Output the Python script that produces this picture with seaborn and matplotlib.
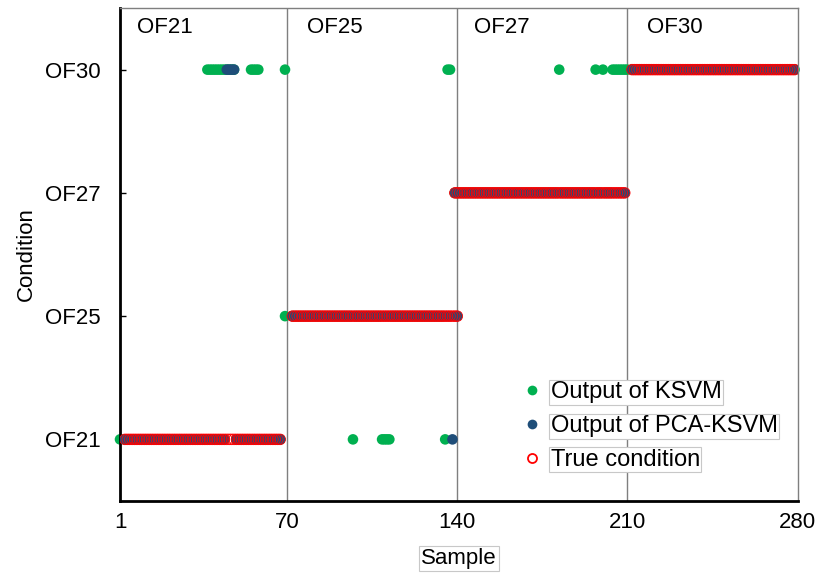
import matplotlib
matplotlib.use("Agg")
import matplotlib.pyplot as plt
import seaborn as sns
import pandas as pd
from matplotlib.lines import Line2D

# ---------------- data ----------------
conditions = ["OF21", "OF25", "OF27", "OF30"]
x_ticks = [1, 70, 140, 210, 280]
boundaries = [70, 140, 210]
region_labels = ["OF21", "OF25", "OF27", "OF30"]
region_label_x = [8, 78, 147, 218]

# runs of (condition, first sample, last sample)
true_runs = [("OF21", 3, 67), ("OF25", 72, 140), ("OF27", 139, 209), ("OF30", 212, 279)]

ksvm_runs = [("OF21", 1, 1), ("OF21", 3, 36), ("OF30", 37, 48), ("OF21", 49, 54),
             ("OF30", 55, 58), ("OF21", 59, 67), ("OF30", 69, 69), ("OF25", 69, 69),
             ("OF25", 72, 96), ("OF21", 97, 97), ("OF25", 98, 108), ("OF21", 109, 112),
             ("OF25", 113, 134), ("OF21", 135, 135), ("OF30", 136, 137), ("OF27", 139, 181),
             ("OF30", 182, 182), ("OF27", 183, 196), ("OF30", 197, 197), ("OF27", 198, 199),
             ("OF30", 200, 200), ("OF27", 201, 203), ("OF30", 204, 210), ("OF30", 212, 279)]

pca_runs = [("OF21", 3, 44), ("OF30", 45, 48), ("OF21", 49, 67), ("OF25", 72, 137),
            ("OF21", 138, 138), ("OF25", 139, 140), ("OF27", 139, 209), ("OF30", 212, 279)]

legend_labels = ["Output of KSVM", "Output of PCA-KSVM", "True condition"]
colors = {"ksvm": "#00B050", "pca": "#1F4E79", "true": "#FF0000"}


def expand(runs):
    xs, ys = [], []
    for cond, a, b in runs:
        for s in range(a, b + 1):
            xs.append(s)
            ys.append(conditions.index(cond) + 1)
    return pd.DataFrame({"Sample": xs, "Condition": ys})


df_true = expand(true_runs)
df_ksvm = expand(ksvm_runs)
df_pca = expand(pca_runs)

# ---------------- plot ----------------
sns.set_style("white")
plt.rcParams["font.family"] = ["Liberation Sans", "DejaVu Sans"]
plt.rcParams.update({"text.color": "black", "axes.labelcolor": "black",
                     "xtick.color": "black", "ytick.color": "black"})

fig = plt.figure(figsize=(8.16, 5.78), dpi=100)
ax = fig.add_axes([120 / 816, 1 - 501 / 578, (798 - 120) / 816, (501 - 8) / 578])

for b in boundaries:
    ax.axvline(b, color="#7f7f7f", lw=1.0, zorder=1)

sns.scatterplot(data=df_ksvm, x="Sample", y="Condition", ax=ax, color=colors["ksvm"],
                s=58, edgecolor="none", zorder=2, clip_on=False)
sns.scatterplot(data=df_pca, x="Sample", y="Condition", ax=ax, color=colors["pca"],
                s=58, edgecolor="none", zorder=3)
ax.scatter(df_true["Sample"], df_true["Condition"], s=58, facecolors="none",
           edgecolors=colors["true"], linewidths=0.6, zorder=4)

ax.set_xlim(1, 280.4)
ax.set_ylim(0.5, 4.5)
ax.set_xticks(x_ticks)
ax.set_xticklabels([str(t) for t in x_ticks])
ax.set_yticks([1, 2, 3, 4])
ax.set_yticklabels(conditions)
ax.tick_params(axis="x", length=0, pad=8, labelsize=16)
ax.tick_params(axis="y", direction="in", length=4, width=1, pad=14, labelsize=16, left=True)

for lab, lx in zip(region_labels, region_label_x):
    ax.text(lx, 4.34, lab, fontsize=16, ha="left", va="center")

ax.set_xlabel("Sample", fontsize=16, labelpad=11,
              bbox=dict(facecolor="white", edgecolor="#c8c8c8", pad=1.5, lw=0.8))
ax.set_ylabel("Condition", fontsize=16, labelpad=6)

for side in ["left", "bottom"]:
    ax.spines[side].set_color("black")
    ax.spines[side].set_linewidth(2)
for side in ["top", "right"]:
    ax.spines[side].set_color("#7f7f7f")
    ax.spines[side].set_linewidth(1)

handles = [
    Line2D([], [], ls="none", marker="o", markersize=7, color=colors["ksvm"], markeredgecolor="none"),
    Line2D([], [], ls="none", marker="o", markersize=7, color=colors["pca"], markeredgecolor="none"),
    Line2D([], [], ls="none", marker="o", markersize=6.5, markerfacecolor="none",
           markeredgecolor=colors["true"], markeredgewidth=1.3),
]
leg = ax.legend(handles, legend_labels, loc="upper left", bbox_to_anchor=(0.583, 0.262),
                frameon=False, fontsize=17, handlelength=0.6, handletextpad=0.5,
                labelspacing=0.5, borderaxespad=0)
for t in leg.get_texts():
    t.set_bbox(dict(facecolor="white", edgecolor="#c8c8c8", pad=1.0, lw=0.8))

fig.savefig("out.png", dpi=100)
